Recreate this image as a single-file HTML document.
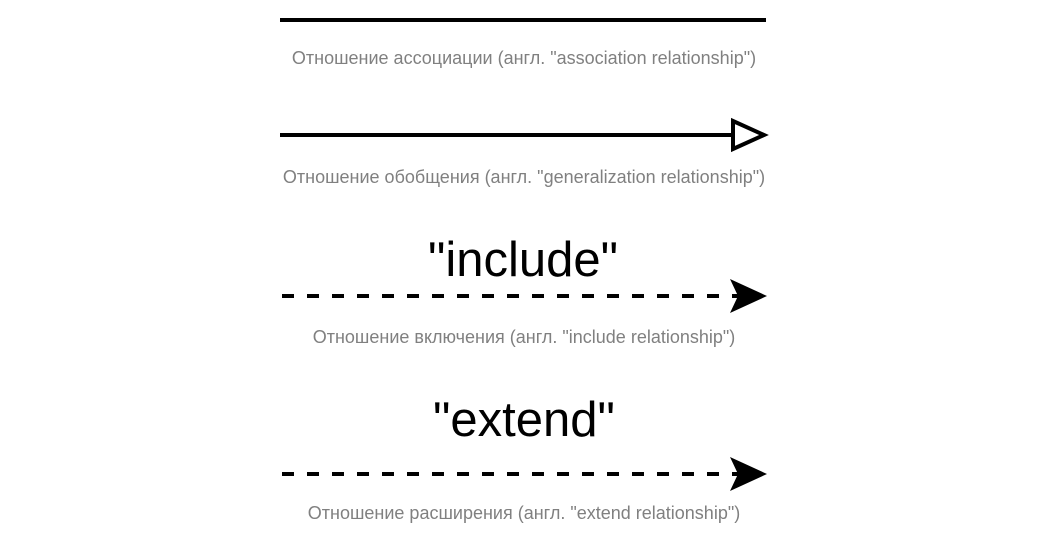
<!DOCTYPE html>
<html><head><meta charset="utf-8"><style>
html,body{margin:0;padding:0;background:#fff;width:1055px;height:560px;overflow:hidden}
</style></head><body>
<svg width="1055" height="560" xmlns="http://www.w3.org/2000/svg" font-family="Liberation Sans, Arial, sans-serif">
<line x1="280" y1="20" x2="766" y2="20" stroke="#000" stroke-width="4"/>
<text x="524" y="64" font-size="18" fill="#808080" text-anchor="middle">Отношение ассоциации (англ. "association relationship")</text>

<line x1="280" y1="135" x2="733" y2="135" stroke="#000" stroke-width="4"/>
<polygon points="733,121 764,135 733,149" fill="#fff" stroke="#000" stroke-width="4"/>
<text x="524" y="183" font-size="18" fill="#808080" text-anchor="middle">Отношение обобщения (англ. "generalization relationship")</text>

<text x="523" y="276" font-size="49" fill="#000" text-anchor="middle">"include"</text>
<line x1="282" y1="296" x2="738" y2="296" stroke="#000" stroke-width="4" stroke-dasharray="12 13"/>
<polygon points="730,279 767,296 730,313 738,296" fill="#000"/>
<text x="524" y="343" font-size="18" fill="#808080" text-anchor="middle">Отношение включения (англ. "include relationship")</text>

<text x="524" y="436" font-size="49" fill="#000" text-anchor="middle">"extend"</text>
<line x1="282" y1="474" x2="738" y2="474" stroke="#000" stroke-width="4" stroke-dasharray="12 13"/>
<polygon points="730,457 767,474 730,491 738,474" fill="#000"/>
<text x="524" y="519" font-size="18" fill="#808080" text-anchor="middle">Отношение расширения (англ. "extend relationship")</text>
</svg>
</body></html>
